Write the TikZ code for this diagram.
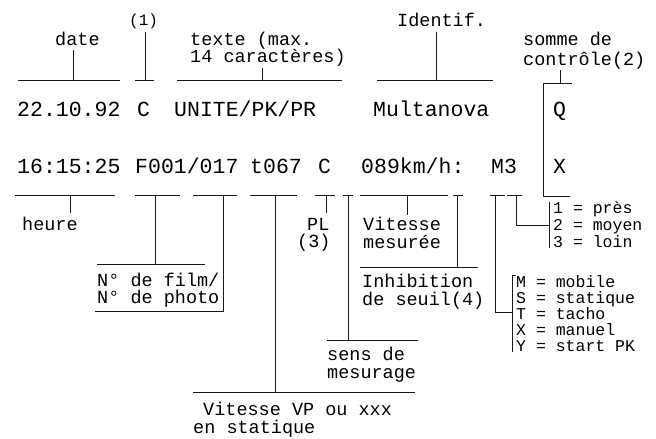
\documentclass[tikz,border=0pt]{standalone}
\usepackage{fontspec}
\newfontfamily\mono{Liberation Mono}
\tikzset{
  rowtxt/.style={font=\mono\fontsize{21.5}{21.5}\selectfont, anchor=base west, inner sep=0pt},
  lab/.style={font=\mono\fontsize{18.5}{18.5}\selectfont, anchor=base west, inner sep=0pt},
  listtxt/.style={font=\mono\fontsize{16.5}{16.5}\selectfont, anchor=base west, inner sep=0pt},
  hand/.style={font=\mono\fontsize{16}{16}\selectfont, anchor=base west, inner sep=0pt},
  ln/.style={line width=0.9pt, draw=black!90},
}
\begin{document}
\begin{tikzpicture}[x=1pt,y=-1pt]
\useasboundingbox (0,0) rectangle (656,439);
% ---------- row texts ----------
\node[rowtxt] (d1) at (17,116) {22.10.92};
\node[rowtxt] (c1) at (137,116) {C};
\node[rowtxt] (u1) at (174,116) {UNITE/PK/PR};
\node[rowtxt] (m1) at (373,116) {Multanova};
\node[rowtxt] (q1) at (553,116) {Q};
\node[rowtxt] (h2) at (17,173) {16:15:25};
\node[rowtxt] (f2) at (135,173) {F001/017};
\node[rowtxt] (t2) at (250,173) {t067};
\node[rowtxt] (c2) at (318,173) {C};
\node[rowtxt] (k2) at (361,173) {089km/h:};
\node[rowtxt] (m2) at (491,173) {M3};
\node[rowtxt] (x2) at (553,173) {X};
% ---------- top labels ----------
\node[lab] (date) at (55,45) {date};
\node[hand] (n1) at (129,25) {(1)};
\node[lab] (tx1) at (190,45) {texte (max.};
\node[lab] (tx2) at (190,62) {14 caractères)};
\node[lab] (idf) at (397,27) {Identif.};
\node[lab] (som1) at (523,45) {somme de};
\node[lab] (som2) at (523,65) {contrôle(2)};
% ---------- bottom labels ----------
\node[lab] (heure) at (22,230) {heure};
\node[lab] (film1) at (97,286) {N° de film/};
\node[lab] (film2) at (97,303) {N° de photo};
\node[lab] (pl1) at (307,230) {PL};
\node[lab] (pl2) at (297,247) {(3)};
\node[lab] (vm1) at (363,230) {Vitesse};
\node[lab] (vm2) at (363,248) {mesurée};
\node[lab] (ih1) at (362,287) {Inhibition};
\node[lab] (ih2) at (362,305) {de seuil(4)};
\node[listtxt] (p1) at (553,213) {1 = près};
\node[listtxt] (p2) at (553,230) {2 = moyen};
\node[listtxt] (p3) at (553,247) {3 = loin};
\node[listtxt] (mm) at (516,287) {M = mobile};
\node[listtxt] (ms) at (516,303) {S = statique};
\node[listtxt] (mt) at (516,319) {T = tacho};
\node[listtxt] (mx) at (516,335) {X = manuel};
\node[listtxt] (my) at (516,351) {Y = start PK};
\node[lab] (sn1) at (327,360) {sens de};
\node[lab] (sn2) at (327,378) {mesurage};
\node[lab] (vp1) at (203,415) {Vitesse VP ou xxx};
\node[lab] (vp2) at (193,433) {en statique};
% ---------- coordinates ----------
\coordinate (a1) at (18,80);  \coordinate (a2) at (120,80); \coordinate (at) at (73,80); \coordinate (ab) at (73,50);
\coordinate (b1) at (135,80); \coordinate (b2) at (154,80); \coordinate (bt) at (145,80); \coordinate (bb) at (145,32);
\coordinate (e1) at (177,80); \coordinate (e2) at (342,80); \coordinate (et) at (262,80); \coordinate (eb) at (262,68);
\coordinate (g1) at (377,80); \coordinate (g2) at (493,80); \coordinate (gt) at (436,80); \coordinate (gb) at (436,32);
\coordinate (s1) at (543,83); \coordinate (s2) at (572,83); \coordinate (st) at (560,83); \coordinate (sb) at (560,70);
\coordinate (s3) at (543,196); \coordinate (s4) at (570,196);
% row 2 underlines
\coordinate (r1a) at (15,195);  \coordinate (r1b) at (115,195); \coordinate (r1t) at (70,195); \coordinate (r1d) at (70,213);
\coordinate (r2a) at (135,195); \coordinate (r2b) at (180,195); \coordinate (r2t) at (155,195); \coordinate (r2d) at (155,264);
\coordinate (r2l) at (97,264);  \coordinate (r2r) at (205,264);
\coordinate (r3a) at (193,195); \coordinate (r3b) at (237,195); \coordinate (r3t) at (223,195); \coordinate (r3d) at (223,311); \coordinate (r3l) at (95,311);
\coordinate (r4a) at (250,195); \coordinate (r4b) at (297,195); \coordinate (r4t) at (275,195); \coordinate (r4d) at (275,392);
\coordinate (r4l) at (193,392); \coordinate (r4r) at (415,392);
\coordinate (r5a) at (315,195); \coordinate (r5b) at (335,195); \coordinate (r5t) at (326,195); \coordinate (r5d) at (326,213);
\coordinate (r6a) at (343,195); \coordinate (r6b) at (353,195); \coordinate (r6t) at (348,195); \coordinate (r6d) at (348,340);
\coordinate (r6l) at (327,340); \coordinate (r6r) at (418,340);
\coordinate (r7a) at (360,195); \coordinate (r7b) at (448,195); \coordinate (r7t) at (407,195); \coordinate (r7d) at (407,215);
\coordinate (r8a) at (453,195); \coordinate (r8b) at (463,195); \coordinate (r8t) at (457,195); \coordinate (r8d) at (457,267);
\coordinate (r8l) at (360,267); \coordinate (r8r) at (478,267);
\coordinate (r9a) at (490,195); \coordinate (r9b) at (505,195); \coordinate (r9t) at (495,195); \coordinate (r9d) at (495,312); \coordinate (r9e) at (512,312);
\coordinate (brt) at (512,275); \coordinate (brh) at (516,275); \coordinate (brb) at (512,352);
\coordinate (r10a) at (507,195); \coordinate (r10b) at (522,195); \coordinate (r10t) at (516,195); \coordinate (r10d) at (516,225); \coordinate (r10e) at (549,225);
\coordinate (pbt) at (549,202); \coordinate (pbb) at (549,248);
% ---------- lines ----------
\draw[ln] (a1) -- (a2); \draw[ln] (at) -- (ab);
\draw[ln] (b1) -- (b2); \draw[ln] (bt) -- (bb);
\draw[ln] (e1) -- (e2); \draw[ln] (et) -- (eb);
\draw[ln] (g1) -- (g2); \draw[ln] (gt) -- (gb);
\draw[ln] (s1) -- (s2); \draw[ln] (st) -- (sb); \draw[ln] (s1) -- (s3) -- (s4);
\draw[ln] (r1a) -- (r1b); \draw[ln] (r1t) -- (r1d);
\draw[ln] (r2a) -- (r2b); \draw[ln] (r2t) -- (r2d); \draw[ln] (r2l) -- (r2r);
\draw[ln] (r3a) -- (r3b); \draw[ln] (r3t) -- (r3d) -- (r3l);
\draw[ln] (r4a) -- (r4b); \draw[ln] (r4t) -- (r4d); \draw[ln] (r4l) -- (r4r);
\draw[ln] (r5a) -- (r5b); \draw[ln] (r5t) -- (r5d);
\draw[ln] (r6a) -- (r6b); \draw[ln] (r6t) -- (r6d); \draw[ln] (r6l) -- (r6r);
\draw[ln] (r7a) -- (r7b); \draw[ln] (r7t) -- (r7d);
\draw[ln] (r8a) -- (r8b); \draw[ln] (r8t) -- (r8d); \draw[ln] (r8l) -- (r8r);
\draw[ln] (r9a) -- (r9b); \draw[ln] (r9t) -- (r9d) -- (r9e);
\draw[ln] (brh) -- (brt) -- (brb);
\draw[ln] (r10a) -- (r10b); \draw[ln] (r10t) -- (r10d) -- (r10e);
\draw[ln] (pbt) -- (pbb);
\end{tikzpicture}
\end{document}
